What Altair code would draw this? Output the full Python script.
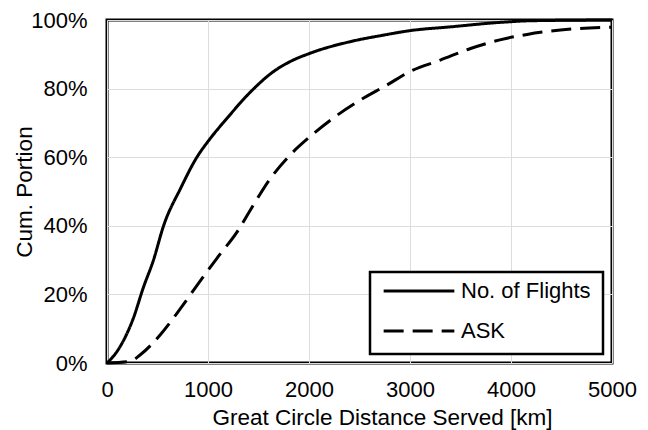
import altair as alt
import pandas as pd

# Cumulative distribution curves
flights_km = [0, 100, 260, 360, 460, 560, 730, 890, 1000, 1190, 1420, 1650, 1815, 2010, 2410, 2740, 3000, 3400, 3890, 4220, 5000]
flights_cum = [0.0, 0.034, 0.13, 0.22, 0.30, 0.40, 0.51, 0.60, 0.646, 0.714, 0.79, 0.85, 0.879, 0.903, 0.937, 0.956, 0.969, 0.98, 0.993, 0.998, 1.0]

ask_km = [0, 230, 330, 530, 730, 920, 1090, 1290, 1450, 1620, 1815, 2010, 2240, 2510, 2770, 3000, 3300, 3600, 3890, 4160, 4490, 5000]
ask_cum = [0.0, 0.005, 0.024, 0.083, 0.16, 0.238, 0.306, 0.383, 0.461, 0.539, 0.607, 0.66, 0.714, 0.767, 0.81, 0.85, 0.883, 0.917, 0.942, 0.958, 0.971, 0.979]

series_names = ["No. of Flights", "ASK"]
x_ticks = [0, 1000, 2000, 3000, 4000, 5000]
y_ticks = [0, 0.2, 0.4, 0.6, 0.8, 1.0]

rows = []
for k, v in zip(flights_km, flights_cum):
    rows.append({"km": k, "cum": v, "series": series_names[0]})
for k, v in zip(ask_km, ask_cum):
    rows.append({"km": k, "cum": v, "series": series_names[1]})
df = pd.DataFrame(rows)

FONT = "Liberation Sans"

chart = alt.Chart(df).mark_line(strokeWidth=3, color="black", interpolate="monotone").encode(
    x=alt.X("km:Q", scale=alt.Scale(domain=[0, 5000], nice=False),
            axis=alt.Axis(values=x_ticks, format="d", title="Great Circle Distance Served [km]",
                          labelPadding=16, titlePadding=6, labelFlush=False,
                          titleX=275, titleAnchor="middle")),
    y=alt.Y("cum:Q", scale=alt.Scale(domain=[0, 1], nice=False),
            axis=alt.Axis(values=y_ticks, format=".0%", title="Cum. Portion",
                          labelPadding=20, titlePadding=-6)),
    strokeDash=alt.StrokeDash("series:N",
                              scale=alt.Scale(domain=series_names, range=[[1, 0], [20, 9]]),
                              legend=alt.Legend(title=None, orient="bottom-right", offset=9,
                                                symbolSize=5000, symbolStrokeWidth=3,
                                                symbolStrokeColor="black", symbolType="stroke",
                                                labelFontSize=22, labelFont=FONT, labelColor="black",
                                                labelOffset=5, rowPadding=18, clipHeight=14,
                                                fillColor="white", strokeColor="black",
                                                padding=12)),
    order=alt.Order("km:Q"),
).properties(
    width=505, height=343,
    autosize=alt.AutoSizeParams(type="none"),
    padding={"left": 99, "top": 12, "right": 28, "bottom": 67},
).configure_view(
    stroke="black", strokeWidth=3
).configure_axis(
    grid=True, gridColor="#dddddd", gridWidth=1,
    domain=False, ticks=False, tickSize=0,
    labelFont=FONT, labelFontSize=22, labelColor="black",
    titleFont=FONT, titleFontSize=22.5, titleFontWeight="normal", titleColor="black",
).configure_legend(
    strokeWidth=2.5
)

chart.save("out.html", embed_options={"renderer": "svg", "actions": False})
